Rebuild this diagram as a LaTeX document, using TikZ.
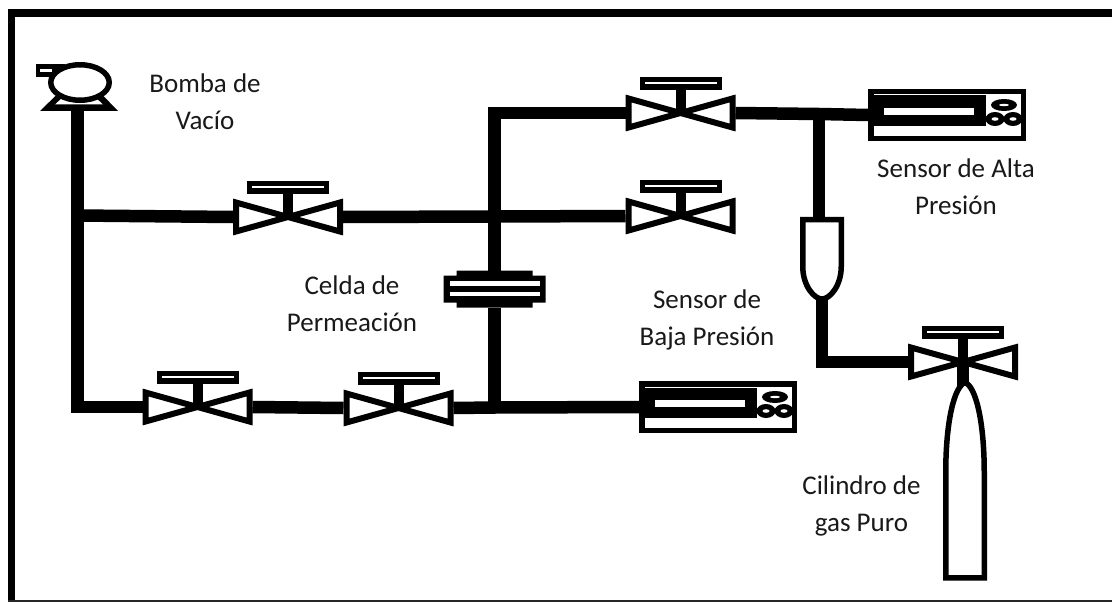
\documentclass[tikz,border=0pt]{standalone}
\usepackage{fontspec}
\setmainfont{Carlito}
\usetikzlibrary{calc}
\tikzset{
  pics/valve/.style={code={
    \draw[line width=6pt, fill=white, miter limit=10] (-52,-14.5) -- (52,14.5) -- (52,-14.5) -- (-52,14.5) -- cycle;
    \fill (-5,-24) rectangle (5,0);
    \fill (-41,-36) rectangle (41,-23);
    \fill[white] (-36,-30.7) rectangle (36,-29.3);
    \coordinate (-c) at (0,0);
    \coordinate (-w) at (-55,0);
    \coordinate (-e) at (55,0);
  }},
  pics/sensor/.style={code={
    \draw[line width=5.5pt, fill=white] (2.75,-23.25) rectangle (155.25,23.25);
    \fill (5,-19.5) rectangle (118,11);
    \fill[white] (16,-7) rectangle (106,0);
    \fill (136,-10) ellipse [x radius=13, y radius=6];
    \fill[white] (136,-10) ellipse [x radius=5, y radius=1.2];
    \foreach \knobx in {127,145} {
      \fill (\knobx,4) ellipse [x radius=9.5, y radius=7];
      \fill[white] (\knobx,4) ellipse [x radius=3.5, y radius=1.8];
    }
    \coordinate (-w) at (0,0);
  }},
  pics/cell/.style={code={
    \fill (-51,-14) -- (-38,-14) -- (-38,-19) -- (38,-19) -- (38,-14) -- (51,-14) -- (51,13) -- (38,13) -- (38,18) -- (-38,18) -- (-38,13) -- (-51,13) -- cycle;
    \fill[white] (-45,-8.5) rectangle (45,-4);
    \fill[white] (-45,2) rectangle (45,6.5);
    \coordinate (-n) at (0,-19);
    \coordinate (-s) at (0,18);
  }},
  pics/funnel/.style={code={
    \draw[line width=5.5pt, fill=white, miter limit=10] (-19.25,0) -- (19.25,0) -- (19.25,47) .. controls (19.25,66) and (8,79.5) .. (0,79.5) .. controls (-8,79.5) and (-19.25,66) .. (-19.25,47) -- cycle;
    \coordinate (-n) at (0,-2);
    \coordinate (-s) at (0,78);
  }},
  pics/cylinder/.style={code={
    \draw[line width=5.5pt, fill=white, miter limit=10] (0,0) .. controls (-11,4) and (-19.25,40) .. (-19.25,90) -- (-19.25,195.25) -- (19.25,195.25) -- (19.25,90) .. controls (19.25,40) and (11,4) .. (0,0) -- cycle;
    \coordinate (-n) at (0,3);
  }},
  pics/pump/.style={code={
    \fill (-40,28.5) -- (38,28.5) -- (21,11) -- (-22,11) -- cycle;
    \fill[white] (-25,22) -- (23,22) -- (16,15.5) -- (-18,15.5) -- cycle;
    \fill (-44,-18.5) rectangle (-15,-5.5);
    \fill[white] (-40,-13.5) rectangle (-28,-10.5);
    \draw[line width=5.5pt, fill=white] (0,0) ellipse [x radius=29.25, y radius=17.75];
    \coordinate (-s) at (-2.5,28);
  }}
}
\begin{document}
\begin{tikzpicture}[
  x=1pt, y=-1pt,
  pipe/.style={line width=12.5pt},
  frameline/.style={line width=7.5pt},
  label/.style={font=\fontsize{27}{28}\selectfont, align=center, text=black!90}
]
\useasboundingbox (0,0) rectangle (1112,602);
\fill[white] (0,0) rectangle (1112,602);
\draw[frameline] (1112,13) -- (11.5,13) -- (11.5,602);
\draw[line width=2pt, black!85] (8,601) -- (1112,601);

\pic[name=P1] at (80,82.5) {pump};
\pic[name=V1] at (288,217) {valve};
\pic[name=V2] at (680.5,113) {valve};
\pic[name=V3] at (680.5,216) {valve};
\pic[name=V4] at (197.5,407) {valve};
\pic[name=V5] at (398.5,408) {valve};
\pic[name=V6] at (963,362) {valve};
\pic[name=S1] at (639,407) {sensor};
\pic[name=S2] at (868,115) {sensor};
\pic[name=C1] at (494.5,289.5) {cell};
\pic[name=F1] at (822,219.5) {funnel};
\pic[name=G1] at (965,382.5) {cylinder};

\coordinate (J1) at (P1-s |- 0,215.5);
\coordinate (J2) at (494.5,216.5);
\coordinate (J3) at (494.5,407.5);
\coordinate (J4) at (819,114);

\draw[pipe] (P1-s) -- (J1) |- (V4-w);
\draw[pipe] (J1) -- (V1-w);
\draw[pipe] (V1-e) -- (J2) -- (V3-w);
\draw[pipe] (V2-w) -| (C1-n);
\draw[pipe] (C1-s) -- (J3);
\draw[pipe] (V5-e) -- (J3) -- (S1-w);
\draw[pipe] (V4-e) -- (V5-w);
\draw[pipe] (V2-e) -- (J4) -- (S2-w);
\draw[pipe] (J4) -- (J4 |- F1-n);
\draw[pipe] (F1-s) |- (V6-w);
\draw[pipe] (V6-c) -- (V6-c |- G1-n);

\node[label] (bomba) at (205,102) {Bomba de\\[9pt]Vacío};
\node[label] (alta) at (956,187) {Sensor de Alta\\[9pt]Presión};
\node[label] (celda) at (352,304) {Celda de\\[9pt]Permeación};
\node[label] (baja) at (707,320) {Sensor de\\[9pt]Baja Presión};
\node[label] (cilindro) at (861.5,506) {Cilindro de\\[9pt]gas Puro};
\end{tikzpicture}
\end{document}
